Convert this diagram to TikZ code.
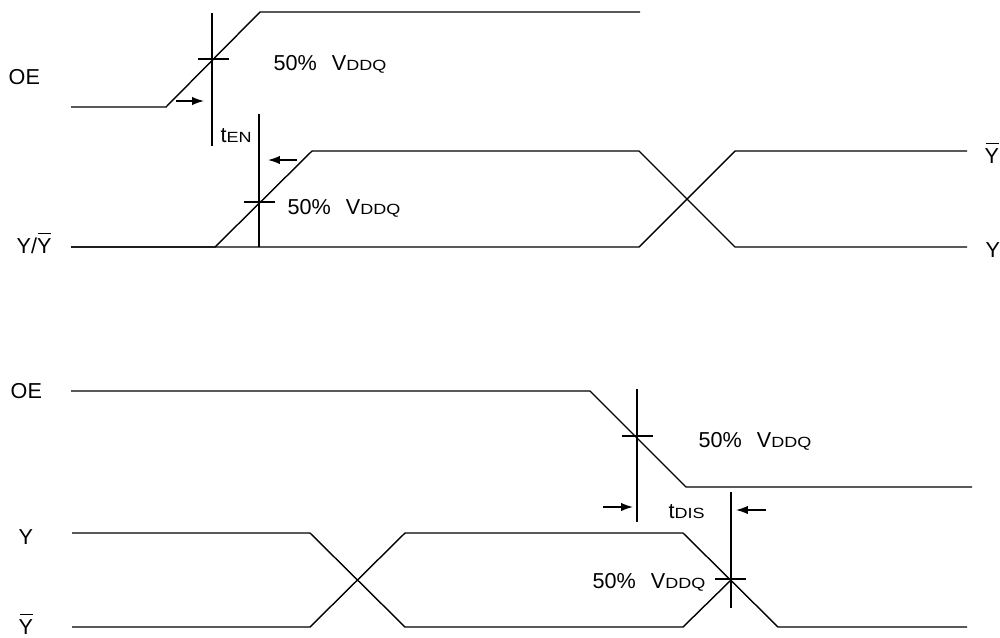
\documentclass[tikz,border=0pt]{standalone}
\usepackage{fontspec}
\setmainfont{Liberation Sans}
\usepackage{graphicx}
\usetikzlibrary{arrows.meta}
\newcommand{\lowcap}[1]{\scalebox{1.22}[1]{\fontsize{8.4}{9}\selectfont #1}}
\newcommand{\vddq}{50\%\hspace{8.5pt}V\lowcap{DDQ}}
\newcommand{\ybar}{\leavevmode\rlap{\hspace{0.04em}\rule[0.88em]{0.6em}{0.06em}}Y}
\newcommand{\yslash}{Y/\ybar}
\begin{document}
\begin{tikzpicture}[x=0.02cm,y=-0.02cm,>={Latex[length=6.8pt,width=4.8pt]},line join=round,line width=0.8pt,font=\fontsize{12.3}{14}\selectfont]
	\useasboundingbox (0,0) rectangle (1000,637);
	% enable
	\path (71,107) coordinate (E1)
	(166,107) coordinate (E2)
	(260,12) coordinate (E3)
	(640,12) coordinate (E4)
	(71,247) coordinate (A1)
	(215,247) coordinate (A2)
	(312,151) coordinate (A3)
	(639,151) coordinate (A4)
	(735,247) coordinate (A5)
	(967,247) coordinate (A6)
	(639,247) coordinate (B4)
	(735,151) coordinate (B5)
	(967,151) coordinate (B6)
	;
	\draw (E1)--(E2)--(E3)--(E4);
	\draw (A1)--(A2)--(A3)--(A4)--(A5)--(A6);
	\draw (A1)--(B4)--(B5)--(B6);
	\path (212,13) coordinate (T1)
	(212,146) coordinate (T2)
	(198,59) coordinate (C1)
	(229,59) coordinate (C2)
	(259,114) coordinate (T3)
	(259,247) coordinate (T4)
	(244,202) coordinate (C3)
	(275,202) coordinate (C4)
	(176,101) coordinate (P1)
	(204,101) coordinate (P2)
	(297,160) coordinate (P3)
	(268,160) coordinate (P4)
	;
	\draw (T1)--(T2) (C1)--(C2);
	\draw (T3)--(T4) (C3)--(C4);
	\draw[->] (P1)--(P2);
	\draw[->] (P3)--(P4);
	% disable
	\path (71,391) coordinate (F1)
	(590,391) coordinate (F2)
	(686,487) coordinate (F3)
	(972,487) coordinate (F4)
	(72,533) coordinate (Y1)
	(310,533) coordinate (Y2)
	(405,627) coordinate (Y3)
	(683,627) coordinate (Y4)
	(731,580) coordinate (Y5)
	(72,627) coordinate (Z1)
	(310,627) coordinate (Z2)
	(405,533) coordinate (Z3)
	(683,533) coordinate (Z4)
	(778,627) coordinate (Z5)
	(967,627) coordinate (Z6)
	;
	\draw (F1)--(F2)--(F3)--(F4);
	\draw (Y1)--(Y2)--(Y3)--(Y4)--(Y5);
	\draw (Z1)--(Z2)--(Z3)--(Z4)--(Z5)--(Z6);
	\path (637,389) coordinate (S1)
	(637,522) coordinate (S2)
	(622,436) coordinate (D1)
	(653,436) coordinate (D2)
	(731,492) coordinate (S3)
	(731,608) coordinate (S4)
	(715,579) coordinate (D3)
	(746,579) coordinate (D4)
	(603,507) coordinate (Q1)
	(633,507) coordinate (Q2)
	(766,510) coordinate (Q3)
	(736,510) coordinate (Q4)
	;
	\draw (S1)--(S2) (D1)--(D2);
	\draw (S3)--(S4) (D3)--(D4);
	\draw[->] (Q1)--(Q2);
	\draw[->] (Q3)--(Q4);
	% labels
	\foreach \n/\x/\y/\t in {oeA/8/84/OE,vA/273/70/\vddq,ten/220/142/t\lowcap{EN},vB/287/214/\vddq,
		yl/16/253/\yslash,ybr/984/163/\ybar,yr/985/257/Y,oeB/10/398/OE,vC/698/447/\vddq,
		tdis/668/518/t\lowcap{DIS},vD/592/588/\vddq,yA/18/544/Y,ybA/18/634/\ybar}
	\node[anchor=base west,inner sep=0pt] (\n) at (\x,\y) {\t};
\end{tikzpicture}
\end{document}
